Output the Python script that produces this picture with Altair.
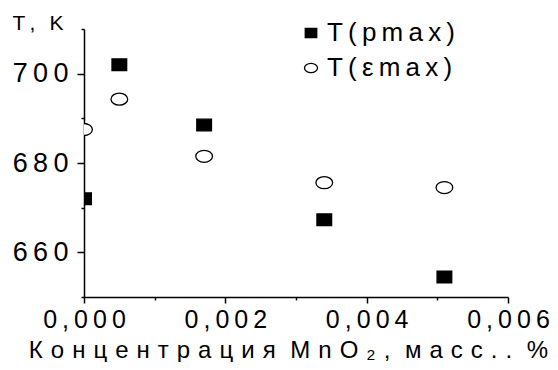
import altair as alt
import pandas as pd

# ---- data ----
conc = [0.0, 0.0005, 0.0017, 0.0034, 0.0051]
t_pmax = [672.0, 702.0, 688.5, 667.3, 654.5]
t_emax = [687.5, 694.3, 681.5, 675.6, 674.5]
series_names = ["T(pmax)", "T(εmax)"]
x_tick_values = [0.0, 0.001, 0.002, 0.003, 0.004, 0.005, 0.006]
y_tick_values = [650, 660, 670, 680, 690, 700, 710]
x_title_words = ["Концентрация", "MnO₂,", "масс..", "%"]
y_title = "T, K"

TS = "\u2009"  # thin space used as letter spacing
WS = "\u2004"  # three-per-em space for the wide axis title


def spaced(s, sep=TS):
    return sep.join(list(s))


labels = [spaced(n) for n in series_names]
df = pd.DataFrame({
    "x": conc + conc,
    "T": t_pmax + t_emax,
    "s": [labels[0]] * len(conc) + [labels[1]] * len(conc),
})

SQUARE = "M -0.88 -0.7 L 0.88 -0.7 L 0.88 0.7 L -0.88 0.7 Z"
ELLIPSE = "M -1 0 A 1 0.72 0 1 1 1 0 A 1 0.72 0 1 1 -1 0 Z"

FONT = "Liberation Sans"
x_title = (" " + WS).join(spaced(w, WS) for w in x_title_words)
y_title_sp = TS.join(["T", ",", " ", "K"])

x_label_expr = (
    "round(datum.value*1000) % 2 == 0 ? "
    f"'0{TS},{TS}0{TS}0{TS}' + round(datum.value*1000) : ''"
)
y_label_expr = (
    "datum.value % 20 == 0 ? "
    f"floor(datum.value/100) + '{TS}' + (floor(datum.value/10) % 10) + '{TS}' + (datum.value % 10) : ''"
)

legend = alt.Legend(
    orient="none", legendX=214, legendY=-9, title=None,
    symbolSize=170, symbolStrokeColor="black", symbolStrokeWidth=1.3,
    labelFont=FONT, labelFontSize=26, labelColor="black",
    rowPadding=9, labelOffset=3, padding=0,
)

chart = alt.Chart(df).mark_point(
    filled=False, size=279, strokeWidth=1.3, clip=True, opacity=1
).encode(
    x=alt.X(
        "x:Q",
        scale=alt.Scale(domain=[0, 0.006], nice=False, zero=False),
        axis=alt.Axis(
            values=x_tick_values, labelExpr=x_label_expr, labelOverlap=False,
            labelFlush=False, labelFontSize=25, labelPadding=4,
            tickSize={"condition": {"test": "round(datum.value*1000) % 2 == 0", "value": 6}, "value": 3},
            title=x_title, titleFontSize=24, titleFont=FONT, titleFontWeight="normal",
            titleAlign="center", titleBaseline="alphabetic", titleX=204, titleY=60,
        ),
    ),
    y=alt.Y(
        "T:Q",
        scale=alt.Scale(domain=[650, 710], nice=False, zero=False),
        axis=alt.Axis(
            values=y_tick_values, labelExpr=y_label_expr, labelOverlap=False,
            labelFlush=False, labelFontSize=27, labelPadding=9,
            tickSize={"condition": {"test": "datum.value % 20 == 0", "value": 7}, "value": 3},
            title=y_title_sp, titleFontSize=21, titleFont=FONT, titleFontWeight="normal",
            titleAngle=0, titleAlign="left", titleBaseline="alphabetic", titleX=-72, titleY=0,
        ),
    ),
    shape=alt.Shape("s:N", scale=alt.Scale(domain=labels, range=[SQUARE, ELLIPSE]), legend=legend),
    fill=alt.Fill("s:N", scale=alt.Scale(domain=labels, range=["black", "white"]), legend=legend),
    stroke=alt.Stroke("s:N", scale=alt.Scale(domain=labels, range=["black", "black"]), legend=legend),
).properties(
    width=424,
    height=268,
    autosize=alt.AutoSizeParams(type="none"),
    padding={"left": 76, "top": 21, "right": 42, "bottom": 65},
).configure_view(
    stroke=None
).configure_axis(
    grid=False, domainColor="black", domainWidth=1.5, tickColor="black", tickWidth=1.5,
    labelColor="black", labelFont=FONT, titleColor="black",
)

chart.save("out.html", embed_options={"renderer": "svg", "actions": False})
